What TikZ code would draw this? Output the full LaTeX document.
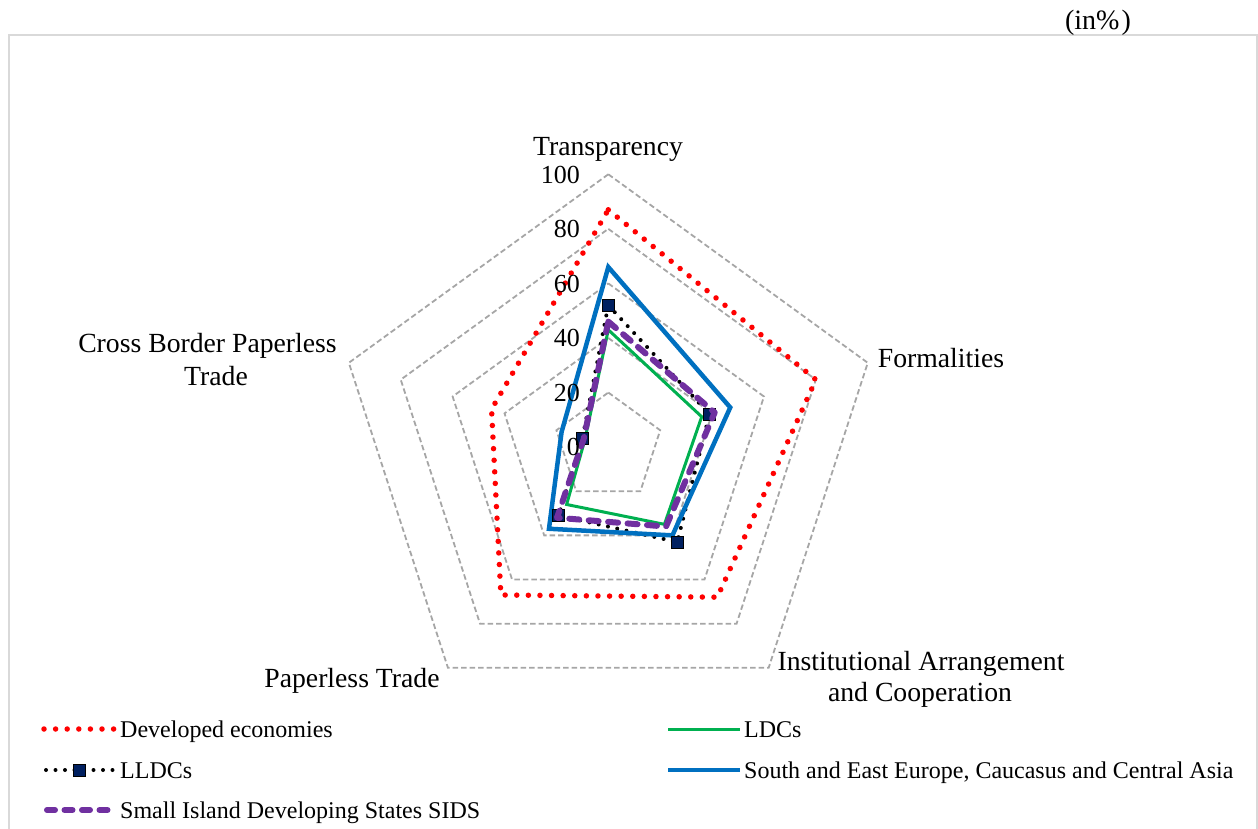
\documentclass[tikz,border=0pt]{standalone}
\usepackage{fontspec}
\setmainfont{Liberation Serif}
\definecolor{gridc}{HTML}{A6A6A6}
\definecolor{framec}{HTML}{D9D9D9}
\definecolor{devc}{HTML}{FF0000}
\definecolor{ldcc}{HTML}{00B050}
\definecolor{seec}{HTML}{0070C0}
\definecolor{sidsc}{HTML}{7030A0}
\definecolor{navyc}{HTML}{002060}
\begin{document}
\begin{tikzpicture}[x=1pt,y=1pt,
  axlab/.style={font=\fontsize{27.7}{33}\selectfont, inner sep=0pt, anchor=base},
  ticklab/.style={font=\fontsize{26}{30}\selectfont, inner sep=0pt, anchor=base east},
  leglab/.style={font=\fontsize{24}{29}\selectfont, inner sep=0pt, anchor=base west},
  gridline/.style={draw=gridc, line width=1.8pt, dash pattern=on 5.5pt off 3pt},
  devser/.style={draw=devc, line width=5.5pt, line cap=round, dash pattern=on 0pt off 11.6pt},
  ldcser/.style={draw=ldcc, line width=3pt, line join=miter},
  lldcser/.style={draw=black, line width=4pt, line cap=round, dash pattern=on 0pt off 9.5pt},
  seeser/.style={draw=seec, line width=4.5pt, line join=miter},
  sidsser/.style={draw=sidsc, line width=6pt, line cap=round, line join=round, dash pattern=on 10pt off 9.5pt},
  sqmark/.style={draw=black, fill=navyc, line width=1pt, minimum size=12pt, inner sep=0pt, rectangle}
]
\useasboundingbox (0,0) rectangle (1258,-829);
% frame
\draw[framec, line width=2pt] (9,-829) -- (9,-35.5) -- (1257,-35.5) -- (1257,-829);
\node[font=\fontsize{28}{32}\selectfont, inner sep=0pt, anchor=base] (unit) at (1098,-30) {(in\%\kern2pt)};

\begin{scope}[shift={(608.3pt,-447.1pt)}, x=2.728pt, y=2.728pt]
  \foreach \r in {20,40,60,80,100} {
    \draw[gridline] (90:\r) -- (18:\r) -- (-54:\r) -- (-126:\r) -- (162:\r) -- cycle;
  }
  % Developed economies
  \draw[devser] (90:87) -- (18:80) -- (-54:68) -- (-126:67) -- (162:45) -- cycle;
  % LDCs
  \draw[ldcser] (90:43) -- (18:36) -- (-54:35) -- (-126:26) -- (162:9) -- cycle;
  % LLDCs
  \draw[lldcser] (90:52) -- (18:39) -- (-54:43) -- (-126:31) -- (162:10) -- cycle;
  % South and East Europe
  \draw[seeser] (90:66) -- (18:47) -- (-54:40) -- (-126:37) -- (162:18) -- cycle;
  % LLDC markers
  \node[sqmark] (m1) at (90:52) {};
  \node[sqmark] (m2) at (18:39) {};
  \node[sqmark] (m3) at (-54:43) {};
  \node[sqmark] (m4) at (-126:31) {};
  \node[sqmark] (m5) at (162:10) {};
  % SIDS
  \draw[sidsser] (90:46) -- (18:41) -- (-54:36) -- (-126:32) -- (162:9.5) -- cycle;
\end{scope}

% tick labels
\node[ticklab] (t0) at (580,-455.9) {0};
\node[ticklab] (t20) at (580,-401.3) {20};
\node[ticklab] (t40) at (580,-346.8) {40};
\node[ticklab] (t60) at (580,-292.2) {60};
\node[ticklab] (t80) at (580,-237.7) {80};
\node[ticklab] (t100) at (580,-183.1) {100};

% axis labels
\node[axlab] (a1) at (608,-155.5) {Transparency};
\node[axlab] (a2) at (941,-367) {Formalities};
\node[axlab] (a3a) at (921,-670) {Institutional Arrangement};
\node[axlab] (a3b) at (920,-701) {and Cooperation};
\node[axlab] (a4) at (352,-687) {Paperless Trade};
\node[axlab] (a5a) at (207.5,-352) {Cross Border Paperless};
\node[axlab] (a5b) at (216,-385) {Trade};

% legend
\coordinate (la1) at (44,-729); \coordinate (lb1) at (115,-729);
\draw[devser] (la1) -- (lb1);
\node[leglab] (lt1) at (120,-737.3) {Developed economies};

\coordinate (la2) at (668,-729); \coordinate (lb2) at (740,-729);
\draw[ldcser] (la2) -- (lb2);
\node[leglab] (lt2) at (744,-737.3) {LDCs};

\coordinate (la3) at (46,-770); \coordinate (lb3) at (115,-770);
\draw[lldcser] (la3) -- (lb3);
\node[sqmark] (lm3) at (79,-770) {};
\node[leglab] (lt3) at (120,-778.3) {LLDCs};

\coordinate (la4) at (668,-770); \coordinate (lb4) at (740,-770);
\draw[seeser] (la4) -- (lb4);
\node[leglab] (lt4) at (744,-778.3) {South and East Europe, Caucasus and Central Asia};

\coordinate (la5) at (47,-810); \coordinate (lb5) at (112,-810);
\draw[sidsser, dash pattern=on 8pt off 9.5pt] (la5) -- (lb5);
\node[leglab] (lt5) at (120,-818.3) {Small Island Developing States SIDS};
\end{tikzpicture}
\end{document}
